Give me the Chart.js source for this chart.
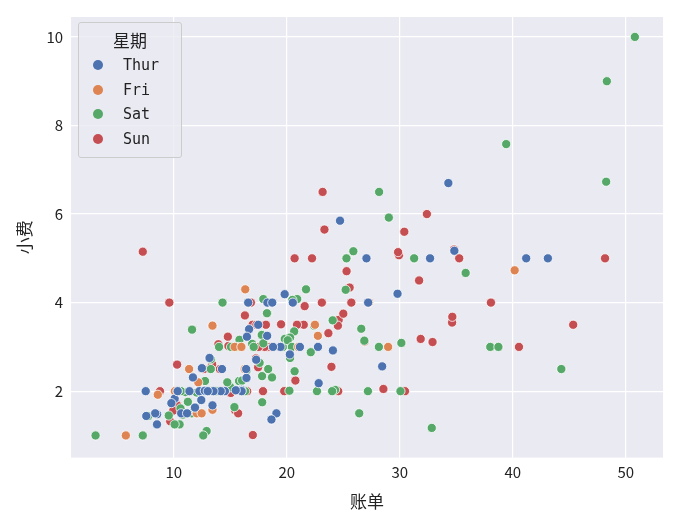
<!DOCTYPE html>
<html>
<head>
<meta charset="utf-8">
<script src="https://cdn.jsdelivr.net/npm/chart.js@4"></script>
<style>
  body { margin: 0; background: #fff; font-family: "Noto Sans CJK SC", sans-serif; }
  #wrap { position: relative; width: 675px; height: 518px; }
  #legend { position: absolute; left: 78px; top: 22px; width: 102px; padding: 4px 0 6px 0;
    background: rgba(234,234,242,0.8); border: 1px solid #cccccc; border-radius: 3px; font-size: 15px; color: #222; }
  #legend .t { text-align: center; font-size: 17px; margin-bottom: 1px; }
  #legend .r { display: flex; align-items: center; height: 24.5px; padding-left: 14px; font-family: "DejaVu Sans Mono", monospace; font-size: 15px; }
  #legend .d { width: 10px; height: 10px; border-radius: 50%; margin-right: 20px; }
</style>
</head>
<body>
<div id="wrap">
  <canvas id="c" width="675" height="518"></canvas>
  <div id="legend"></div>
</div>
<script>
const days = ['Thur', 'Fri', 'Sat', 'Sun'];
const colors = ['#4c72b0', '#dd8452', '#55a868', '#c44e52'];
const xTicks = [10, 20, 30, 40, 50];
const yTicks = [2, 4, 6, 8, 10];

// [账单, 小费] per day
const thur = [[27.2,4.0],[22.76,3.0],[17.29,2.71],[19.44,3.0],[16.66,3.4],[10.07,1.83],[32.68,5.0],[15.98,2.03],[34.83,5.17],[13.03,2.0],[18.28,4.0],[24.71,5.85],[21.16,3.0],
  [10.65,1.5],[12.43,1.8],[24.08,2.92],[11.69,2.31],[13.42,1.68],[14.26,2.5],[15.95,2.0],[12.48,2.52],[29.8,4.2],[8.52,1.48],[14.52,2.0],[11.38,2.0],[22.82,2.18],[19.08,1.5],[20.27,2.83],[11.17,1.5],[12.26,2.0],[18.26,3.25],[8.51,1.25],[10.33,2.0],[14.15,2.0],[16.0,2.0],[13.16,2.75],[17.47,3.5],[34.3,6.7],[41.19,5.0],[27.05,5.0],[16.43,2.3],[8.35,1.5],[18.64,1.36],[11.87,1.63],[9.78,1.73],[7.51,2.0],
  [19.81,4.19],[28.44,2.56],[15.48,2.02],[16.58,4.0],[7.56,1.44],[10.34,2.0],[43.11,5.0],[13.0,2.0],[13.51,2.0],[18.71,4.0],[12.74,2.01],[13.0,2.0],[16.4,2.5],[20.53,4.0],[16.47,3.23],[18.78,3.0]];
const fri = [[28.97,3.0],[22.49,3.5],[5.75,1.0],[16.32,4.3],[22.75,3.25],[40.17,4.73],[27.28,4.0],[12.03,1.5],[21.01,3.0],[12.46,1.5],[11.35,2.5],[15.38,3.0],
  [12.16,2.2],[13.42,3.48],[8.58,1.92],[15.98,3.0],[13.42,1.58],[16.27,2.5],[10.09,2.0]];
const sat = [[20.65,3.35],[17.92,4.08],[20.29,2.75],[15.77,2.23],[39.42,7.58],[19.82,3.18],[17.81,2.34],[13.37,2.0],[12.69,2.0],[21.7,4.3],[19.65,3.0],[9.55,1.45],[18.35,2.5],[15.06,3.0],[20.69,2.45],[17.78,3.27],[24.06,3.6],[16.31,2.0],[16.93,3.07],[18.69,2.31],[31.27,5.0],[16.04,2.24],
  [38.01,3.0],[26.41,1.5],[11.24,1.76],[48.27,6.73],[20.29,3.21],[13.81,2.0],[11.02,1.98],[18.29,3.76],[17.59,2.64],[20.08,3.15],[16.45,2.47],[3.07,1.0],[20.23,2.01],[15.01,2.09],[12.02,1.97],[17.07,3.0],[26.86,3.14],[25.28,5.0],[14.73,2.2],[10.51,1.25],[17.92,3.08],
  [44.3,2.5],[22.42,3.48],[20.92,4.08],[15.36,1.64],[20.49,4.06],[25.21,4.29],[18.24,3.76],[14.31,4.0],[14.0,3.0],[7.25,1.0],
  [10.59,1.61],[10.63,2.0],[50.81,10.0],[15.81,3.16],
  [26.59,3.41],[38.73,3.0],[24.27,2.03],[12.76,2.23],[30.06,2.0],[25.89,5.16],[48.33,9.0],[13.27,2.5],[28.17,6.5],[12.9,1.1],[28.15,3.0],[11.59,1.5],[7.74,1.44],[30.14,3.09],
  [20.45,3.0],[13.28,2.72],[22.12,2.88],[24.01,2.0],[15.69,3.0],[11.61,3.39],[10.77,1.47],[15.53,3.0],[10.07,1.25],[12.6,1.0],[32.83,1.17],[35.83,4.67],[29.03,5.92],[27.18,2.0],[22.67,2.0],[17.82,1.75]];
const sun = [[16.99,1.01],[10.34,1.66],[21.01,3.5],[23.68,3.31],[24.59,3.61],[25.29,4.71],[8.77,2.0],[26.88,3.12],[15.04,1.96],[14.78,3.23],[10.27,1.71],[35.26,5.0],[15.42,1.57],[18.43,3.0],[14.83,3.02],[21.58,3.92],[10.33,1.67],[16.29,3.71],[16.97,3.5],
  [17.46,2.54],[13.94,3.06],[9.68,1.32],[30.4,5.6],[18.29,3.0],[22.23,5.0],[32.4,6.0],[28.55,2.05],[18.04,3.0],[12.54,2.5],[10.29,2.6],[34.81,5.2],[9.94,1.56],[25.56,4.34],[19.49,3.51],
  [38.07,4.0],[23.95,2.55],[25.71,4.0],[17.31,3.5],[29.93,5.07],
  [14.07,2.5],[13.13,2.0],[17.26,2.74],[24.55,2.0],[19.77,2.0],[29.85,5.14],[48.17,5.0],[25.0,3.75],[13.39,2.61],[16.49,2.0],[21.5,3.5],[12.66,2.5],[16.21,2.0],[13.81,2.0],[17.51,3.0],[24.52,3.48],[20.76,2.24],[31.71,4.5],
  [7.25,5.15],[31.85,3.18],[16.82,4.0],[32.9,3.11],[17.89,2.0],[14.48,2.0],[9.6,4.0],[34.63,3.55],[34.65,3.68],[23.33,5.65],[45.35,3.5],[23.17,6.5],[40.55,3.0],[20.69,5.0],[20.9,3.5],[30.46,2.0],[18.15,3.5],[23.1,4.0],[15.69,1.5]];
const series = [thur, fri, sat, sun];

const legend = document.getElementById('legend');
legend.innerHTML = '<div class="t">星期</div>' + days.map((d, i) =>
  `<div class="r"><span class="d" style="background:${colors[i]}"></span>${d}</div>`).join('');

const bgPlugin = {
  id: 'bg',
  beforeDraw(chart) {
    const a = chart.chartArea, ctx = chart.ctx;
    ctx.save();
    ctx.fillStyle = '#eaeaf2';
    ctx.fillRect(a.left, a.top, a.right - a.left, a.bottom - a.top);
    ctx.restore();
  }
};

const font = { family: '"Noto Sans CJK SC", sans-serif', size: 15 };

new Chart(document.getElementById('c'), {
  type: 'scatter',
  data: {
    datasets: series.map((s, i) => ({
      label: days[i],
      data: s.map(p => ({ x: p[0], y: p[1] })),
      backgroundColor: colors[i],
      borderColor: '#ffffff',
      borderWidth: 0.8,
      pointRadius: 4.6
    }))
  },
  options: {
    responsive: false,
    animation: false,
    layout: { padding: { top: 10, right: 12, left: 10, bottom: 2 } },
    plugins: { legend: { display: false }, tooltip: { enabled: false } },
    scales: {
      x: {
        min: 0.9, max: 53.3,
        afterBuildTicks: ax => { ax.ticks = xTicks.map(v => ({ value: v })); },
        grid: { color: '#ffffff', lineWidth: 1.2, drawTicks: false },
        border: { display: false },
        ticks: { color: '#222', font, padding: 6 },
        title: { display: true, text: '账单', color: '#222', font: { ...font, size: 17 } }
      },
      y: {
        min: 0.5, max: 10.45,
        afterBuildTicks: ax => { ax.ticks = yTicks.map(v => ({ value: v })); },
        grid: { color: '#ffffff', lineWidth: 1.2, drawTicks: false },
        border: { display: false },
        ticks: { color: '#222', font, padding: 8 },
        title: { display: true, text: '小费', color: '#222', font: { ...font, size: 17 } }
      }
    }
  },
  plugins: [bgPlugin]
});
</script>
</body>
</html>
